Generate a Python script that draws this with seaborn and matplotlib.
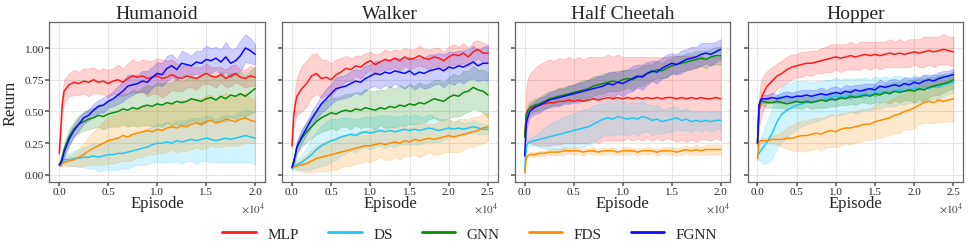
"""Learning curves: return vs. episode for four locomotion tasks."""

import numpy as np
import pandas as pd
import matplotlib
matplotlib.use('Agg')
import matplotlib.pyplot as plt
from matplotlib.lines import Line2D
import seaborn as sns

ENVS = ["Humanoid", "Walker", "Half Cheetah", "Hopper"]
METHODS = ["MLP", "DS", "GNN", "FDS", "FGNN"]
COLORS = {"MLP": "#ff1a1a", "DS": "#1ec8f5", "GNN": "#0a8a0a", "FDS": "#ff8c00", "FGNN": "#0a0aff"}

EP_20K = [0, 150, 300] + list(range(500, 20001, 500))
EP_25K = [0, 200, 400] + list(range(625, 25001, 625))

# ── Humanoid ──────────────────────────────────────────────────────────────────
HUM_MLP = [0.17, 0.35, 0.55,
           0.66, 0.71, 0.73, 0.72, 0.74, 0.73, 0.75, 0.73, 0.74, 0.72,
           0.74, 0.75, 0.73, 0.76, 0.78, 0.77, 0.78, 0.76, 0.77, 0.78,
           0.76, 0.77, 0.79, 0.77, 0.76, 0.78, 0.77, 0.76, 0.78, 0.80,
           0.78, 0.77, 0.79, 0.76, 0.78, 0.80, 0.77, 0.76, 0.78, 0.77]
HUM_MLP_ERR = [0.01, 0.05, 0.08,
               0.09, 0.09, 0.10, 0.09, 0.10, 0.11, 0.10, 0.09, 0.10, 0.11,
               0.10, 0.12, 0.11, 0.12, 0.13, 0.12, 0.13, 0.14, 0.13, 0.14,
               0.15, 0.13, 0.12, 0.11, 0.10, 0.09, 0.08, 0.09, 0.07, 0.08,
               0.07, 0.08, 0.06, 0.07, 0.08, 0.07, 0.06, 0.07, 0.08, 0.07]
HUM_DS = [0.08, 0.10, 0.11,
          0.12, 0.12, 0.13, 0.13, 0.14, 0.14, 0.15, 0.14, 0.15, 0.16,
          0.16, 0.17, 0.17, 0.18, 0.19, 0.20, 0.21, 0.22, 0.24, 0.25,
          0.25, 0.26, 0.25, 0.27, 0.26, 0.27, 0.28, 0.27, 0.28, 0.29,
          0.28, 0.27, 0.28, 0.29, 0.28, 0.29, 0.30, 0.31, 0.30, 0.29]
HUM_DS_ERR = [0.01, 0.02, 0.03,
              0.04, 0.05, 0.06, 0.07, 0.08, 0.09, 0.10, 0.11, 0.11, 0.12,
              0.12, 0.13, 0.12, 0.13, 0.12, 0.12, 0.13, 0.14, 0.14, 0.15,
              0.15, 0.16, 0.15, 0.16, 0.17, 0.16, 0.17, 0.18, 0.17, 0.18,
              0.18, 0.17, 0.18, 0.19, 0.18, 0.19, 0.20, 0.21, 0.20, 0.21]
HUM_GNN = [0.08, 0.10, 0.14,
           0.20, 0.30, 0.36, 0.40, 0.42, 0.44, 0.45, 0.47, 0.46, 0.48,
           0.49, 0.50, 0.52, 0.51, 0.53, 0.52, 0.54, 0.55, 0.54, 0.56,
           0.55, 0.57, 0.56, 0.58, 0.57, 0.58, 0.60, 0.59, 0.58, 0.60,
           0.61, 0.59, 0.62, 0.60, 0.63, 0.62, 0.64, 0.62, 0.65, 0.68]
HUM_GNN_ERR = [0.01, 0.02, 0.03,
               0.05, 0.06, 0.06, 0.07, 0.07, 0.08, 0.08, 0.09, 0.10, 0.10,
               0.11, 0.12, 0.12, 0.13, 0.14, 0.14, 0.15, 0.16, 0.16, 0.17,
               0.17, 0.16, 0.17, 0.18, 0.17, 0.18, 0.17, 0.18, 0.19, 0.18,
               0.17, 0.18, 0.19, 0.18, 0.17, 0.18, 0.17, 0.16, 0.17, 0.18]
HUM_FDS = [0.08, 0.08, 0.09,
           0.10, 0.11, 0.12, 0.14, 0.16, 0.19, 0.21, 0.23, 0.25, 0.27,
           0.28, 0.29, 0.31, 0.30, 0.32, 0.33, 0.34, 0.35, 0.34, 0.36,
           0.35, 0.37, 0.38, 0.37, 0.39, 0.38, 0.40, 0.41, 0.40, 0.42,
           0.43, 0.41, 0.42, 0.44, 0.43, 0.42, 0.44, 0.45, 0.43, 0.42]
HUM_FDS_ERR = [0.01, 0.01, 0.02,
               0.03, 0.04, 0.05, 0.07, 0.09, 0.11, 0.13, 0.15, 0.17, 0.18,
               0.19, 0.19, 0.20, 0.19, 0.20, 0.19, 0.20, 0.19, 0.18, 0.19,
               0.18, 0.19, 0.18, 0.19, 0.20, 0.19, 0.20, 0.19, 0.20, 0.21,
               0.20, 0.19, 0.20, 0.21, 0.20, 0.19, 0.20, 0.19, 0.18, 0.17]
HUM_FGNN = [0.08, 0.09, 0.12,
            0.18, 0.28, 0.35, 0.40, 0.45, 0.47, 0.51, 0.54, 0.55, 0.58,
            0.60, 0.63, 0.66, 0.70, 0.71, 0.72, 0.74, 0.73, 0.77, 0.80,
            0.79, 0.84, 0.86, 0.83, 0.88, 0.87, 0.86, 0.89, 0.88, 0.91,
            0.90, 0.92, 0.89, 0.93, 0.88, 0.90, 0.94, 1.00, 0.98, 0.95]
HUM_FGNN_ERR = [0.01, 0.02, 0.03,
                0.04, 0.05, 0.05, 0.05, 0.05, 0.04, 0.05, 0.05, 0.06, 0.05,
                0.06, 0.07, 0.08, 0.09, 0.08, 0.07, 0.08, 0.09, 0.08, 0.09,
                0.09, 0.10, 0.09, 0.08, 0.10, 0.09, 0.08, 0.09, 0.10, 0.11,
                0.10, 0.09, 0.10, 0.12, 0.11, 0.10, 0.12, 0.11, 0.10, 0.08]

# ── Walker ────────────────────────────────────────────────────────────────────
WAL_MLP = [0.23, 0.45, 0.55,
           0.62, 0.68, 0.72, 0.78, 0.80, 0.76, 0.77, 0.75, 0.79, 0.81,
           0.84, 0.83, 0.86, 0.85, 0.88, 0.90, 0.87, 0.89, 0.91, 0.90,
           0.92, 0.90, 0.93, 0.91, 0.92, 0.94, 0.92, 0.91, 0.93, 0.92,
           0.90, 0.93, 0.95, 0.94, 0.96, 0.93, 0.97, 0.99, 0.96, 0.96]
WAL_MLP_ERR = [0.02, 0.08, 0.12,
               0.15, 0.18, 0.18, 0.17, 0.16, 0.15, 0.14, 0.13, 0.12, 0.11,
               0.10, 0.09, 0.08, 0.09, 0.08, 0.07, 0.08, 0.07, 0.08, 0.07,
               0.07, 0.08, 0.07, 0.08, 0.07, 0.08, 0.07, 0.08, 0.07, 0.08,
               0.07, 0.08, 0.08, 0.07, 0.08, 0.07, 0.08, 0.07, 0.08, 0.07]
WAL_DS = [0.05, 0.06, 0.07,
          0.08, 0.10, 0.13, 0.16, 0.20, 0.23, 0.25, 0.27, 0.28, 0.30,
          0.31, 0.32, 0.31, 0.33, 0.34, 0.33, 0.34, 0.35, 0.34, 0.35,
          0.34, 0.35, 0.36, 0.35, 0.36, 0.35, 0.36, 0.37, 0.36, 0.35,
          0.36, 0.37, 0.36, 0.37, 0.36, 0.37, 0.38, 0.37, 0.36, 0.36]
WAL_DS_ERR = [0.01, 0.02, 0.03,
              0.04, 0.06, 0.09, 0.12, 0.14, 0.16, 0.17, 0.17, 0.16, 0.15,
              0.14, 0.13, 0.13, 0.12, 0.12, 0.13, 0.12, 0.12, 0.13, 0.12,
              0.12, 0.11, 0.12, 0.11, 0.12, 0.11, 0.10, 0.11, 0.10, 0.09,
              0.08, 0.07, 0.06, 0.06, 0.05, 0.05, 0.04, 0.05, 0.04, 0.04]
WAL_GNN = [0.06, 0.10, 0.15,
           0.22, 0.29, 0.34, 0.38, 0.42, 0.45, 0.47, 0.49, 0.48, 0.50,
           0.51, 0.50, 0.52, 0.51, 0.53, 0.52, 0.51, 0.53, 0.52, 0.54,
           0.53, 0.55, 0.54, 0.56, 0.55, 0.57, 0.56, 0.58, 0.60, 0.59,
           0.58, 0.61, 0.63, 0.62, 0.65, 0.66, 0.69, 0.67, 0.66, 0.63]
WAL_GNN_ERR = [0.01, 0.02, 0.04,
               0.05, 0.07, 0.08, 0.09, 0.10, 0.11, 0.12, 0.12, 0.13, 0.12,
               0.13, 0.14, 0.13, 0.14, 0.15, 0.14, 0.15, 0.14, 0.15, 0.16,
               0.15, 0.16, 0.15, 0.16, 0.15, 0.16, 0.15, 0.14, 0.15, 0.16,
               0.15, 0.16, 0.17, 0.16, 0.17, 0.16, 0.17, 0.16, 0.17, 0.18]
WAL_FDS = [0.06, 0.06, 0.07,
           0.07, 0.08, 0.09, 0.11, 0.13, 0.14, 0.15, 0.16, 0.17, 0.18,
           0.19, 0.20, 0.21, 0.22, 0.23, 0.23, 0.24, 0.25, 0.24, 0.25,
           0.26, 0.25, 0.27, 0.26, 0.28, 0.27, 0.28, 0.29, 0.28, 0.29,
           0.30, 0.31, 0.30, 0.31, 0.32, 0.33, 0.34, 0.35, 0.37, 0.38]
WAL_FDS_ERR = [0.01, 0.01, 0.02,
               0.03, 0.05, 0.07, 0.09, 0.10, 0.11, 0.12, 0.12, 0.13, 0.12,
               0.12, 0.13, 0.12, 0.13, 0.12, 0.13, 0.12, 0.11, 0.12, 0.13,
               0.12, 0.13, 0.12, 0.11, 0.12, 0.13, 0.12, 0.11, 0.12, 0.13,
               0.12, 0.13, 0.12, 0.13, 0.12, 0.11, 0.12, 0.11, 0.12, 0.11]
WAL_FGNN = [0.06, 0.10, 0.15,
            0.22, 0.30, 0.37, 0.44, 0.50, 0.56, 0.60, 0.64, 0.68, 0.69,
            0.70, 0.72, 0.74, 0.73, 0.76, 0.78, 0.80, 0.79, 0.81, 0.80,
            0.82, 0.81, 0.80, 0.82, 0.79, 0.81, 0.80, 0.82, 0.83, 0.84,
            0.82, 0.85, 0.84, 0.86, 0.85, 0.87, 0.89, 0.86, 0.88, 0.88]
WAL_FGNN_ERR = [0.01, 0.02, 0.03,
                0.04, 0.05, 0.05, 0.06, 0.06, 0.07, 0.08, 0.08, 0.09, 0.09,
                0.09, 0.10, 0.09, 0.10, 0.10, 0.09, 0.10, 0.11, 0.10, 0.11,
                0.10, 0.11, 0.12, 0.11, 0.12, 0.11, 0.12, 0.13, 0.12, 0.12,
                0.13, 0.12, 0.13, 0.12, 0.13, 0.12, 0.13, 0.12, 0.13, 0.14]

# ── Half Cheetah ──────────────────────────────────────────────────────────────
HC_MLP = [0.30, 0.48, 0.51,
          0.52, 0.54, 0.55, 0.56, 0.57, 0.57, 0.58, 0.58, 0.59, 0.58,
          0.59, 0.58, 0.59, 0.60, 0.59, 0.60, 0.61, 0.60, 0.61, 0.60,
          0.61, 0.60, 0.61, 0.60, 0.61, 0.60, 0.61, 0.60, 0.61, 0.61,
          0.60, 0.61, 0.60, 0.61, 0.60, 0.61, 0.60, 0.60, 0.61, 0.60]
HC_MLP_ERR = [0.05, 0.20, 0.25,
              0.27, 0.30, 0.32, 0.33, 0.34, 0.33, 0.34, 0.33, 0.34, 0.33,
              0.34, 0.33, 0.34, 0.33, 0.34, 0.33, 0.34, 0.33, 0.34, 0.33,
              0.32, 0.33, 0.32, 0.33, 0.32, 0.33, 0.32, 0.33, 0.32, 0.33,
              0.34, 0.33, 0.34, 0.33, 0.34, 0.33, 0.32, 0.33, 0.32, 0.33]
HC_DS = [0.05, 0.22, 0.25,
         0.26, 0.27, 0.28, 0.29, 0.30, 0.31, 0.32, 0.33, 0.34, 0.35,
         0.36, 0.37, 0.38, 0.40, 0.42, 0.44, 0.45, 0.44, 0.46, 0.45,
         0.44, 0.45, 0.44, 0.46, 0.45, 0.43, 0.44, 0.42, 0.43, 0.44,
         0.45, 0.43, 0.44, 0.42, 0.43, 0.42, 0.43, 0.42, 0.43, 0.43]
HC_DS_ERR = [0.02, 0.02, 0.03,
             0.03, 0.04, 0.06, 0.08, 0.10, 0.11, 0.12, 0.13, 0.13, 0.14,
             0.14, 0.15, 0.14, 0.15, 0.14, 0.13, 0.14, 0.13, 0.14, 0.13,
             0.13, 0.12, 0.13, 0.12, 0.11, 0.12, 0.11, 0.10, 0.09, 0.10,
             0.09, 0.08, 0.09, 0.08, 0.07, 0.08, 0.07, 0.08, 0.07, 0.07]
HC_GNN = [0.30, 0.46, 0.50,
          0.53, 0.55, 0.56, 0.58, 0.60, 0.61, 0.62, 0.63, 0.64, 0.65,
          0.66, 0.67, 0.68, 0.70, 0.71, 0.72, 0.73, 0.74, 0.73, 0.75,
          0.76, 0.75, 0.77, 0.78, 0.80, 0.81, 0.83, 0.82, 0.84, 0.86,
          0.87, 0.88, 0.89, 0.90, 0.91, 0.92, 0.91, 0.93, 0.94, 0.94]
HC_GNN_ERR = [0.02, 0.04, 0.05,
              0.05, 0.05, 0.05, 0.06, 0.06, 0.06, 0.07, 0.06, 0.07, 0.06,
              0.07, 0.08, 0.07, 0.08, 0.07, 0.08, 0.07, 0.08, 0.07, 0.08,
              0.07, 0.08, 0.07, 0.08, 0.07, 0.06, 0.07, 0.06, 0.07, 0.06,
              0.07, 0.06, 0.07, 0.06, 0.07, 0.06, 0.07, 0.06, 0.07, 0.07]
HC_FDS = [0.02, 0.13, 0.15,
          0.16, 0.16, 0.17, 0.17, 0.18, 0.18, 0.18, 0.19, 0.19, 0.19,
          0.19, 0.18, 0.19, 0.19, 0.18, 0.19, 0.19, 0.19, 0.18, 0.19,
          0.19, 0.19, 0.18, 0.19, 0.19, 0.19, 0.18, 0.19, 0.19, 0.19,
          0.18, 0.19, 0.20, 0.19, 0.20, 0.19, 0.20, 0.20, 0.20, 0.20]
HC_FDS_ERR = [0.01, 0.01, 0.01,
              0.02, 0.02, 0.02, 0.02, 0.02, 0.03, 0.02, 0.03, 0.02, 0.03,
              0.02, 0.03, 0.02, 0.03, 0.02, 0.03, 0.02, 0.03, 0.02, 0.03,
              0.03, 0.02, 0.03, 0.02, 0.03, 0.02, 0.03, 0.02, 0.03, 0.03,
              0.03, 0.03, 0.03, 0.03, 0.04, 0.03, 0.04, 0.04, 0.04, 0.04]
HC_FGNN = [0.15, 0.40, 0.45,
           0.50, 0.53, 0.55, 0.57, 0.59, 0.60, 0.61, 0.62, 0.63, 0.64,
           0.65, 0.66, 0.67, 0.68, 0.69, 0.70, 0.72, 0.71, 0.73, 0.72,
           0.74, 0.76, 0.78, 0.77, 0.80, 0.82, 0.81, 0.84, 0.86, 0.88,
           0.87, 0.89, 0.91, 0.92, 0.93, 0.95, 0.96, 0.95, 0.97, 0.99]
HC_FGNN_ERR = [0.02, 0.05, 0.05,
               0.05, 0.05, 0.06, 0.05, 0.06, 0.06, 0.07, 0.06, 0.07, 0.07,
               0.08, 0.07, 0.08, 0.08, 0.09, 0.08, 0.09, 0.10, 0.09, 0.10,
               0.09, 0.10, 0.09, 0.10, 0.09, 0.08, 0.09, 0.08, 0.09, 0.08,
               0.08, 0.09, 0.08, 0.09, 0.08, 0.09, 0.08, 0.09, 0.08, 0.08]

# ── Hopper ────────────────────────────────────────────────────────────────────
HOP_MLP = [0.25, 0.50, 0.58,
           0.63, 0.70, 0.74, 0.78, 0.80, 0.83, 0.85, 0.86, 0.87, 0.88,
           0.88, 0.89, 0.90, 0.91, 0.92, 0.93, 0.92, 0.93, 0.94, 0.93,
           0.94, 0.95, 0.94, 0.95, 0.94, 0.95, 0.96, 0.95, 0.96, 0.95,
           0.96, 0.97, 0.96, 0.97, 0.98, 0.97, 0.98, 0.99, 0.98, 0.97]
HOP_MLP_ERR = [0.02, 0.12, 0.14,
               0.14, 0.12, 0.11, 0.10, 0.10, 0.10, 0.10, 0.09, 0.10, 0.09,
               0.10, 0.09, 0.10, 0.10, 0.11, 0.10, 0.11, 0.10, 0.11, 0.10,
               0.11, 0.10, 0.11, 0.10, 0.11, 0.10, 0.11, 0.10, 0.11, 0.10,
               0.11, 0.10, 0.11, 0.12, 0.11, 0.12, 0.11, 0.12, 0.11, 0.12]
HOP_DS = [0.15, 0.17, 0.19,
          0.21, 0.26, 0.33, 0.42, 0.48, 0.51, 0.53, 0.55, 0.56, 0.57,
          0.57, 0.58, 0.59, 0.60, 0.61, 0.62, 0.61, 0.62, 0.63, 0.62,
          0.63, 0.64, 0.63, 0.65, 0.64, 0.66, 0.65, 0.66, 0.67, 0.66,
          0.67, 0.68, 0.67, 0.69, 0.68, 0.70, 0.69, 0.71, 0.72, 0.73]
HOP_DS_ERR = [0.03, 0.05, 0.08,
              0.12, 0.17, 0.20, 0.21, 0.22, 0.21, 0.20, 0.19, 0.18, 0.17,
              0.16, 0.16, 0.15, 0.15, 0.14, 0.15, 0.14, 0.14, 0.13, 0.14,
              0.13, 0.13, 0.12, 0.13, 0.12, 0.12, 0.11, 0.12, 0.11, 0.11,
              0.10, 0.11, 0.10, 0.10, 0.09, 0.10, 0.09, 0.09, 0.08, 0.08]
HOP_GNN = [0.25, 0.55, 0.58,
           0.58, 0.57, 0.57, 0.58, 0.57, 0.56, 0.57, 0.58, 0.57, 0.58,
           0.57, 0.58, 0.59, 0.58, 0.60, 0.59, 0.61, 0.60, 0.62, 0.61,
           0.62, 0.63, 0.62, 0.64, 0.63, 0.65, 0.64, 0.66, 0.65, 0.66,
           0.67, 0.66, 0.68, 0.67, 0.69, 0.70, 0.71, 0.72, 0.73, 0.75]
HOP_GNN_ERR = [0.02, 0.03, 0.03,
               0.03, 0.04, 0.04, 0.05, 0.04, 0.05, 0.04, 0.05, 0.05, 0.04,
               0.05, 0.05, 0.06, 0.05, 0.06, 0.05, 0.06, 0.05, 0.06, 0.06,
               0.05, 0.06, 0.06, 0.07, 0.06, 0.07, 0.08, 0.07, 0.08, 0.07,
               0.08, 0.09, 0.08, 0.09, 0.08, 0.07, 0.08, 0.07, 0.06, 0.07]
HOP_FDS = [0.13, 0.26, 0.27,
           0.27, 0.27, 0.28, 0.28, 0.28, 0.29, 0.29, 0.30, 0.31, 0.31,
           0.32, 0.33, 0.32, 0.34, 0.35, 0.34, 0.36, 0.37, 0.37, 0.38,
           0.39, 0.40, 0.40, 0.42, 0.43, 0.44, 0.45, 0.47, 0.48, 0.50,
           0.51, 0.53, 0.55, 0.57, 0.58, 0.57, 0.59, 0.58, 0.59, 0.60]
HOP_FDS_ERR = [0.02, 0.02, 0.02,
               0.02, 0.02, 0.03, 0.04, 0.06, 0.08, 0.10, 0.11, 0.12, 0.12,
               0.12, 0.12, 0.13, 0.12, 0.13, 0.12, 0.13, 0.12, 0.13, 0.12,
               0.13, 0.12, 0.13, 0.13, 0.14, 0.13, 0.14, 0.14, 0.15, 0.14,
               0.15, 0.16, 0.15, 0.16, 0.17, 0.16, 0.17, 0.16, 0.17, 0.18]
HOP_FGNN = [0.25, 0.55, 0.59,
            0.60, 0.60, 0.61, 0.60, 0.61, 0.62, 0.61, 0.62, 0.62, 0.63,
            0.62, 0.63, 0.64, 0.63, 0.64, 0.65, 0.64, 0.66, 0.65, 0.67,
            0.66, 0.67, 0.68, 0.67, 0.70, 0.69, 0.70, 0.71, 0.70, 0.72,
            0.71, 0.73, 0.72, 0.74, 0.75, 0.74, 0.76, 0.77, 0.78, 0.79]
HOP_FGNN_ERR = [0.02, 0.03, 0.03,
                0.03, 0.03, 0.04, 0.03, 0.04, 0.04, 0.04, 0.04, 0.05, 0.04,
                0.05, 0.04, 0.05, 0.04, 0.05, 0.05, 0.04, 0.05, 0.05, 0.04,
                0.05, 0.05, 0.04, 0.05, 0.05, 0.04, 0.05, 0.05, 0.04, 0.05,
                0.05, 0.04, 0.05, 0.05, 0.04, 0.05, 0.05, 0.05, 0.04, 0.05]

PANELS = [
    ("Humanoid", EP_20K, {"MLP": (HUM_MLP, HUM_MLP_ERR), "DS": (HUM_DS, HUM_DS_ERR),
                          "GNN": (HUM_GNN, HUM_GNN_ERR), "FDS": (HUM_FDS, HUM_FDS_ERR),
                          "FGNN": (HUM_FGNN, HUM_FGNN_ERR)}),
    ("Walker", EP_25K, {"MLP": (WAL_MLP, WAL_MLP_ERR), "DS": (WAL_DS, WAL_DS_ERR),
                        "GNN": (WAL_GNN, WAL_GNN_ERR), "FDS": (WAL_FDS, WAL_FDS_ERR),
                        "FGNN": (WAL_FGNN, WAL_FGNN_ERR)}),
    ("Half Cheetah", EP_20K, {"MLP": (HC_MLP, HC_MLP_ERR), "DS": (HC_DS, HC_DS_ERR),
                              "GNN": (HC_GNN, HC_GNN_ERR), "FDS": (HC_FDS, HC_FDS_ERR),
                              "FGNN": (HC_FGNN, HC_FGNN_ERR)}),
    ("Hopper", EP_25K, {"MLP": (HOP_MLP, HOP_MLP_ERR), "DS": (HOP_DS, HOP_DS_ERR),
                        "GNN": (HOP_GNN, HOP_GNN_ERR), "FDS": (HOP_FDS, HOP_FDS_ERR),
                        "FGNN": (HOP_FGNN, HOP_FGNN_ERR)}),
]

sns.set_theme(style="whitegrid")
plt.rcParams['font.family'] = ['Liberation Serif', 'DejaVu Serif']
plt.rcParams['mathtext.fontset'] = 'stix'
plt.rcParams['xtick.major.size'] = 3
plt.rcParams['ytick.major.size'] = 3
plt.rcParams['xtick.bottom'] = True
plt.rcParams['ytick.left'] = True

fig, axes = plt.subplots(1, 4, figsize=(9.69, 2.53), dpi=100, sharey=True)
fig.subplots_adjust(left=0.051, right=0.994, top=0.909, bottom=0.277, wspace=0.08)

for ax, (title, episodes, series) in zip(axes, PANELS):
    frames = []
    for m in METHODS:
        mean, err = series[m]
        frames.append(pd.DataFrame({"Episode": episodes, "Return": mean, "err": err, "method": m}))
    df = pd.concat(frames, ignore_index=True)

    for m in METHODS:
        d = df[df.method == m]
        ax.fill_between(d["Episode"], d["Return"] - d["err"], d["Return"] + d["err"],
                        color=COLORS[m], alpha=0.2, linewidth=0.6)
    sns.lineplot(data=df, x="Episode", y="Return", hue="method", hue_order=METHODS,
                 palette=COLORS, linewidth=1.1, legend=False, ax=ax)

    ax.set_title(title, fontsize=14, pad=3)
    ax.set_xlabel("Episode", fontsize=12, labelpad=-1)
    ax.set_ylabel("Return" if ax is axes[0] else "", fontsize=12)
    ax.set_ylim(-0.055, 1.205)
    ax.set_yticks([0.0, 0.25, 0.5, 0.75, 1.0])
    ax.set_xticks(np.arange(0, episodes[-1] + 1, 5000))
    ax.set_xticklabels([f"{t / 1e4:.1f}" for t in ax.get_xticks()])
    ax.text(1.0, -0.115, r"$\times10^4$", transform=ax.transAxes, ha='right', va='top',
            fontsize=8, color='0.25')
    ax.tick_params(labelsize=8, pad=1, color='0.4')
    ax.grid(color='0.9', linewidth=0.8)
    for s in ax.spines.values():
        s.set_color('0.4')
        s.set_linewidth(0.9)

handles = [Line2D([0], [0], color=COLORS[m], linewidth=2) for m in METHODS]
fig.legend(handles, METHODS, loc='lower center', bbox_to_anchor=(0.485, -0.01), ncol=5,
           frameon=False, fontsize=11, handlelength=2.2, handletextpad=0.75, columnspacing=1.9)

fig.savefig("out.png", dpi=100)
